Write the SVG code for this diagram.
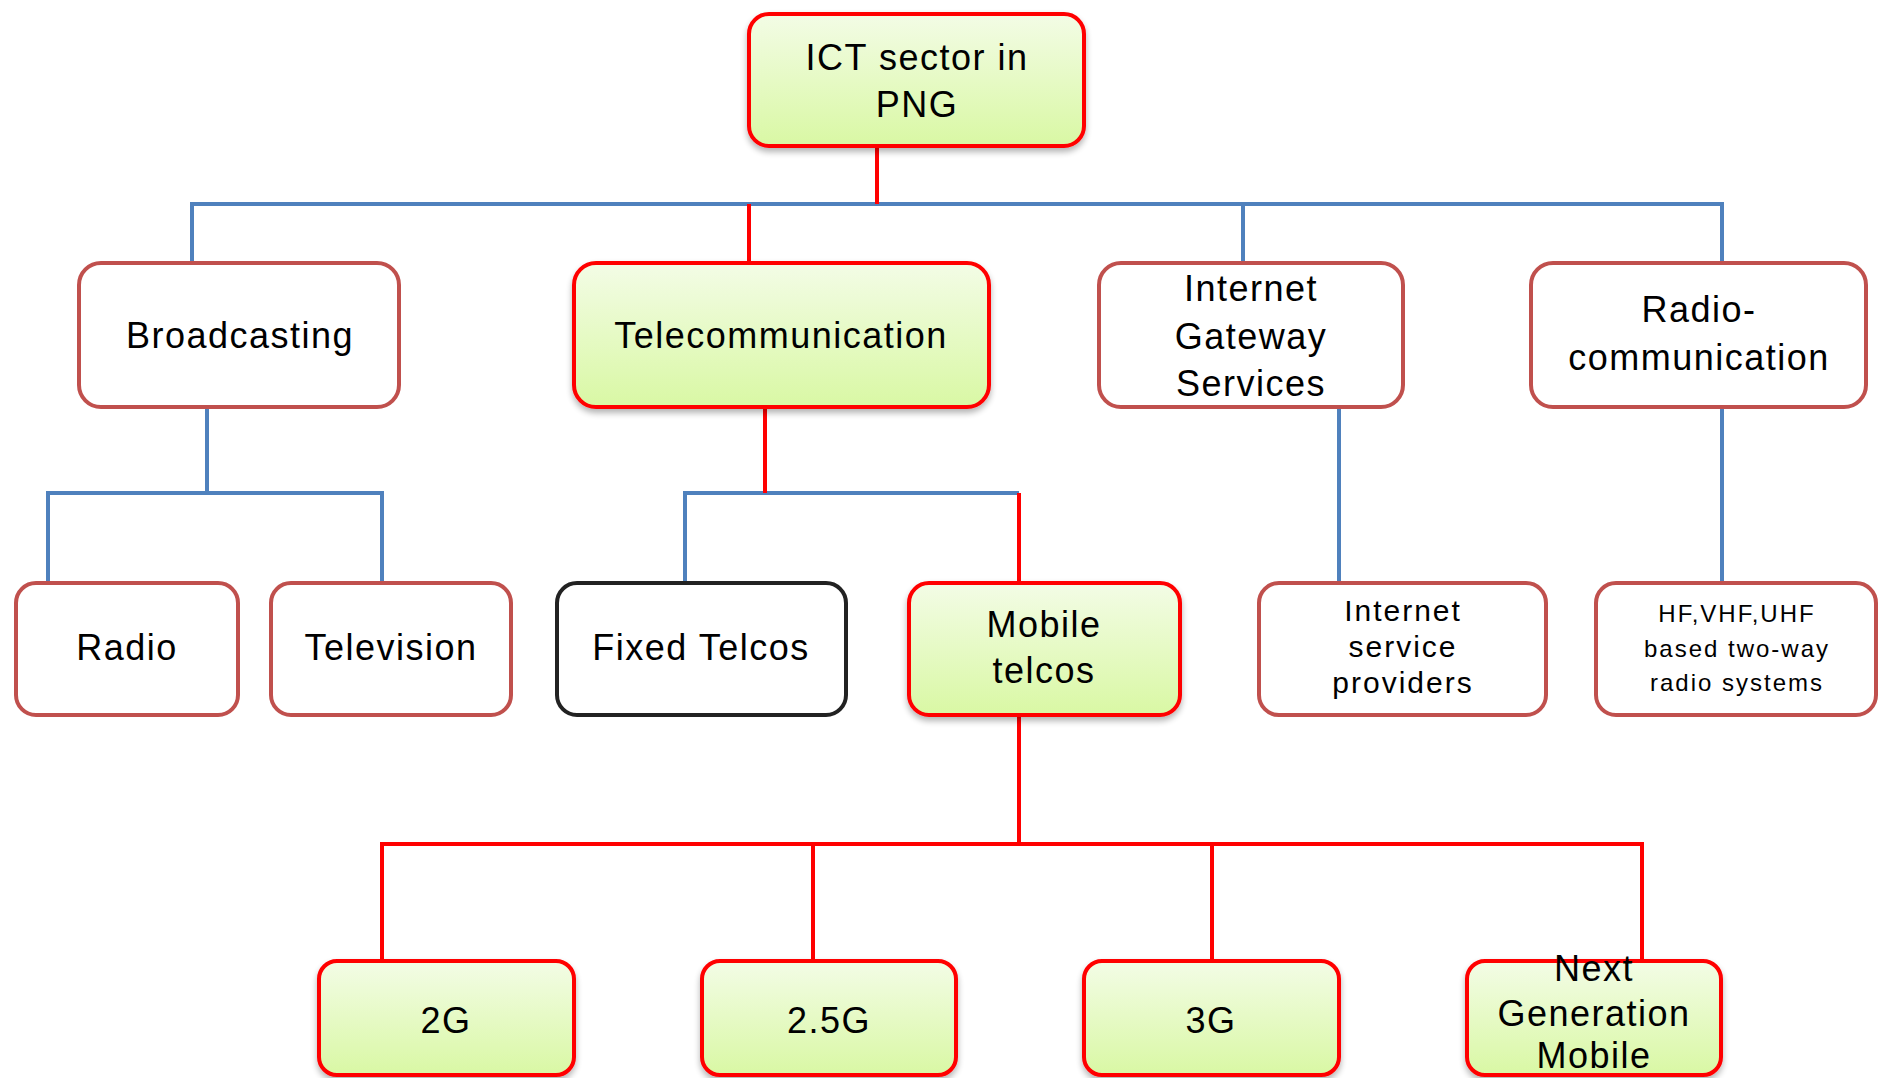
<svg xmlns="http://www.w3.org/2000/svg" width="1878" height="1078" viewBox="0 0 1878 1078">
<defs>
<linearGradient id="grad" x1="0" y1="0" x2="0" y2="1">
<stop offset="0" stop-color="#F3FCE6"/>
<stop offset="1" stop-color="#D9F8A4"/>
</linearGradient>
<filter id="sh" x="-10%" y="-10%" width="120%" height="130%">
<feGaussianBlur in="SourceAlpha" stdDeviation="3"/>
<feOffset dx="0" dy="4" result="b"/>
<feComponentTransfer><feFuncA type="linear" slope="0.3"/></feComponentTransfer>
<feMerge><feMergeNode/><feMergeNode in="SourceGraphic"/></feMerge>
</filter>
<style>
.g{fill:url(#grad);stroke:#FF0000;stroke-width:4;filter:url(#sh)}
.w{fill:#FFFFFF;stroke:#C0504D;stroke-width:4}
.k{fill:#FFFFFF;stroke:#222222;stroke-width:4}
.t{font-family:"Liberation Sans",Arial,sans-serif;font-size:36px;letter-spacing:1.5px;text-anchor:middle;fill:#000}
.s{font-size:30px;letter-spacing:2px}
.xs{font-size:24px;letter-spacing:2px}
.cb{stroke:#4F81BD;stroke-width:4;fill:none}
.cr{stroke:#FF0000;stroke-width:4;fill:none}
</style>
</defs>
<rect width="1878" height="1078" fill="#FFFFFF"/>
<g id="connectors">
<path class="cb" d="M192 263V204H1722V263M1243 204V263"/>
<path class="cr" d="M877 146V204M749 204V263"/>
<path class="cb" d="M207 407V493M48 583V493H382V583"/>
<path class="cb" d="M685 583V493H1019"/>
<path class="cr" d="M765 407V493M1019 493V583"/>
<path class="cb" d="M1339 407V583M1722 407V583"/>
<path class="cr" d="M1019 715V844M382 961V844H1642V961M813 844V961M1212 844V961"/>
</g>
<g id="ict">
<rect class="g" x="749" y="14" width="335" height="132" rx="20"/>
<text class="t" x="917" y="70">ICT sector in</text>
<text class="t" x="917" y="117">PNG</text>
</g>
<g id="broadcasting">
<rect class="w" x="79" y="263" width="320" height="144" rx="22"/>
<text class="t" x="240" y="348">Broadcasting</text>
</g>
<g id="telecommunication">
<rect class="g" x="574" y="263" width="415" height="144" rx="22"/>
<text class="t" x="781" y="348">Telecommunication</text>
</g>
<g id="igs">
<rect class="w" x="1099" y="263" width="304" height="144" rx="22"/>
<text class="t" x="1251" y="301">Internet</text>
<text class="t" x="1251" y="349">Gateway</text>
<text class="t" x="1251" y="396">Services</text>
</g>
<g id="radiocomm">
<rect class="w" x="1531" y="263" width="335" height="144" rx="22"/>
<text class="t" x="1699" y="322">Radio-</text>
<text class="t" x="1699" y="370">communication</text>
</g>
<g id="radio">
<rect class="w" x="16" y="583" width="222" height="132" rx="20"/>
<text class="t" x="127" y="660">Radio</text>
</g>
<g id="television">
<rect class="w" x="271" y="583" width="240" height="132" rx="20"/>
<text class="t" x="391" y="660">Television</text>
</g>
<g id="fixed">
<rect class="k" x="557" y="583" width="289" height="132" rx="20"/>
<text class="t" x="701" y="660">Fixed Telcos</text>
</g>
<g id="mobile">
<rect class="g" x="909" y="583" width="271" height="132" rx="20"/>
<text class="t" x="1044" y="637">Mobile</text>
<text class="t" x="1044" y="683">telcos</text>
</g>
<g id="isp">
<rect class="w" x="1259" y="583" width="287" height="132" rx="20"/>
<text class="t s" x="1403" y="621">Internet</text>
<text class="t s" x="1403" y="657">service</text>
<text class="t s" x="1403" y="693">providers</text>
</g>
<g id="hf">
<rect class="w" x="1596" y="583" width="280" height="132" rx="20"/>
<text class="t xs" x="1737" y="622">HF,VHF,UHF</text>
<text class="t xs" x="1737" y="657">based two-way</text>
<text class="t xs" x="1737" y="691">radio systems</text>
</g>
<g id="g2">
<rect class="g" x="319" y="961" width="255" height="114" rx="18"/>
<text class="t" x="446" y="1033">2G</text>
</g>
<g id="g25">
<rect class="g" x="702" y="961" width="254" height="114" rx="18"/>
<text class="t" x="829" y="1033">2.5G</text>
</g>
<g id="g3">
<rect class="g" x="1084" y="961" width="255" height="114" rx="18"/>
<text class="t" x="1211" y="1033">3G</text>
</g>
<g id="ngm">
<rect class="g" x="1467" y="961" width="254" height="114" rx="18"/>
<text class="t" x="1594" y="981">Next</text>
<text class="t" x="1594" y="1026">Generation</text>
<text class="t" x="1594" y="1068">Mobile</text>
</g>
</svg>
